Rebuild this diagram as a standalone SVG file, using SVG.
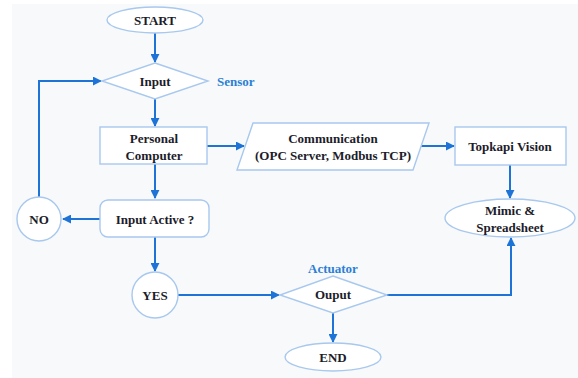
<svg xmlns="http://www.w3.org/2000/svg" width="578" height="378" viewBox="0 0 578 378">
  <defs>
    <marker id="arrow" viewBox="0 0 10 10" refX="9" refY="5" markerWidth="9" markerHeight="9" markerUnits="userSpaceOnUse" orient="auto">
      <path d="M0,0 L10,5 L0,10 Z" fill="#1e74d6"/>
    </marker>
    <style>
      .shape { fill: #ffffff; stroke: #a8c8ee; stroke-width: 1.4; }
      .label { font-family: 'Liberation Serif', 'DejaVu Serif', serif; font-weight: 700; font-size: 13px; fill: #1c1c2a; text-anchor: middle; }
      .note { font-family: 'Liberation Serif', 'DejaVu Serif', serif; font-weight: 700; font-size: 13px; fill: #2a7fd6; }
      .conn { fill: none; stroke: #1e74d6; stroke-width: 2; }
    </style>
  </defs>

  <rect x="0" y="0" width="578" height="378" fill="#ffffff"/>
  <rect x="12" y="4" width="566" height="374" fill="#f8f9fa"/>

  <!-- connectors -->
  <g id="connectors">
    <path class="conn" d="M155,33 L155,62" marker-end="url(#arrow)"/>
    <path class="conn" d="M155,99 L155,126" marker-end="url(#arrow)"/>
    <path class="conn" d="M207,146 L244,146" marker-end="url(#arrow)"/>
    <path class="conn" d="M419,146 L454,146" marker-end="url(#arrow)"/>
    <path class="conn" d="M510,165 L510,198" marker-end="url(#arrow)"/>
    <path class="conn" d="M155,164 L155,198" marker-end="url(#arrow)"/>
    <path class="conn" d="M100,219 L63,219" marker-end="url(#arrow)"/>
    <path class="conn" d="M39,197 L39,81 L101,81" marker-end="url(#arrow)"/>
    <path class="conn" d="M155,237 L155,271" marker-end="url(#arrow)"/>
    <path class="conn" d="M178,295 L279,295" marker-end="url(#arrow)"/>
    <path class="conn" d="M387,295 L511,295 L511,238" marker-end="url(#arrow)"/>
    <path class="conn" d="M333,313 L333,342" marker-end="url(#arrow)"/>
  </g>

  <!-- nodes -->
  <g id="start">
    <ellipse class="shape" cx="155" cy="20" rx="48" ry="13"/>
    <text class="label" x="155" y="25">START</text>
  </g>

  <g id="input">
    <polygon class="shape" points="155,63 208,81 155,99 102,81"/>
    <text class="label" x="155" y="86">Input</text>
    <text class="note" x="217" y="86">Sensor</text>
  </g>

  <g id="personal-computer">
    <rect class="shape" x="100" y="127" width="107" height="37"/>
    <text class="label" x="154" y="143">Personal</text>
    <text class="label" x="154" y="160">Computer</text>
  </g>

  <g id="communication">
    <polygon class="shape" points="253,123 429,123 413,170 237,170"/>
    <text class="label" x="333" y="143">Communication</text>
    <text class="label" x="333" y="160">(OPC Server, Modbus TCP)</text>
  </g>

  <g id="topkapi-vision">
    <rect class="shape" x="455" y="127" width="111" height="38"/>
    <text class="label" x="510" y="151">Topkapi Vision</text>
  </g>

  <g id="mimic-spreadsheet">
    <ellipse class="shape" cx="510" cy="218" rx="65" ry="19"/>
    <text class="label" x="510" y="215">Mimic &amp;</text>
    <text class="label" x="510" y="232">Spreadsheet</text>
  </g>

  <g id="input-active">
    <rect class="shape" x="100" y="200" width="109" height="37" rx="8" ry="8"/>
    <text class="label" x="155" y="224">Input Active ?</text>
  </g>

  <g id="no">
    <circle class="shape" cx="39" cy="219" r="22"/>
    <text class="label" x="39" y="224">NO</text>
  </g>

  <g id="yes">
    <circle class="shape" cx="155" cy="295" r="23"/>
    <text class="label" x="155" y="300">YES</text>
  </g>

  <g id="output">
    <polygon class="shape" points="333,276 387,295 333,313 280,295"/>
    <text class="label" x="333" y="299">Ouput</text>
    <text class="note" x="333" y="273" text-anchor="middle">Actuator</text>
  </g>

  <g id="end">
    <ellipse class="shape" cx="333" cy="357" rx="48" ry="14"/>
    <text class="label" x="333" y="362">END</text>
  </g>
</svg>
